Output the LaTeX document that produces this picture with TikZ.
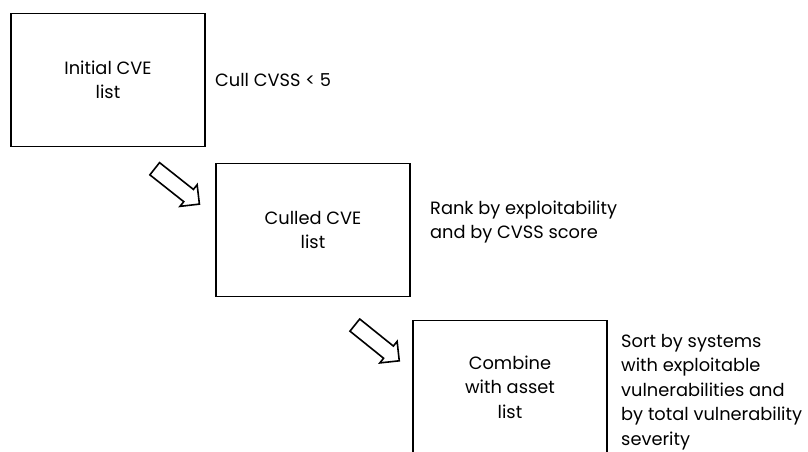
\documentclass[tikz,border=0pt]{standalone}
\usepackage{fontspec}
\setmainfont{Poppins}
\usetikzlibrary{shapes.arrows}
\tikzset{
    box/.style={draw, line width=1.8pt, minimum width=194pt, minimum height=133pt, align=center},
    note/.style={anchor=west, inner sep=0pt, align=left},
    blockarrow/.style={single arrow, draw, line width=1.6pt, inner xsep=0pt, inner ysep=7pt,
        minimum height=57pt, single arrow head extend=6pt, single arrow tip angle=90}
}
\begin{document}
\begin{tikzpicture}[x=1pt, y=-1pt, font=\fontsize{17.8}{24.5}\selectfont]
        \useasboundingbox (0,0) rectangle (808,452);
        % steps
        \foreach \name/\pos/\txt in {init/{(108,80)}/{Initial CVE\\list},
                                     culled/{(313,230)}/{Culled CVE\\list},
                                     combine/{(510,387)}/{Combine\\with asset\\list}}
            \node[box] (\name) at \pos {\txt};
        % notes
        \node[note] (cull) at (215,80) {Cull CVSS < 5};
        \node[note] (rank) at (430,222) {Rank by exploitability\\and by CVSS score};
        \node[note] (sort) at (621,392) {Sort by systems\\with exploitable\\vulnerabilities and\\by total vulnerability\\severity};
        % arrows
        \coordinate (tail1) at (150,165);
        \coordinate (tip1) at (198,203);
        \coordinate (tail2) at (351,322);
        \coordinate (tip2) at (397,359);
        \foreach \i in {1,2}
            \path (tail\i) -- (tip\i) node[midway, sloped, blockarrow] (arrow\i) {};
    \end{tikzpicture}
\end{document}
